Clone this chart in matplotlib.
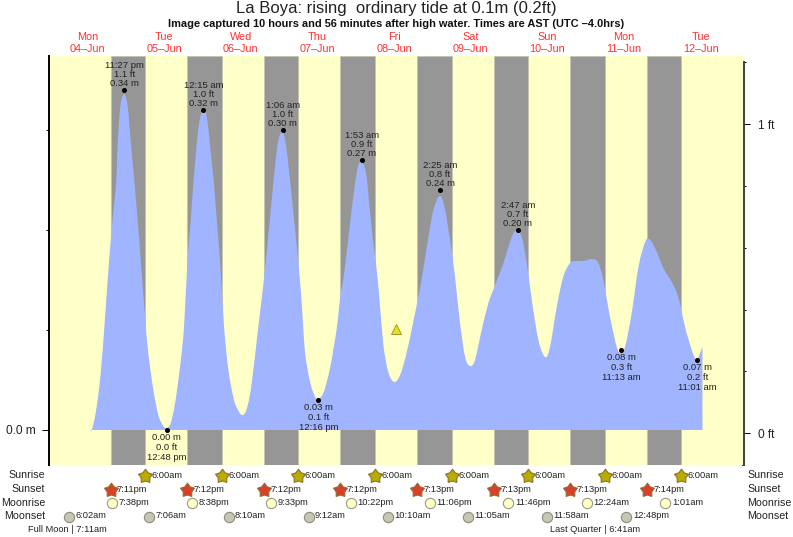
import matplotlib
matplotlib.use('Agg')
import matplotlib.pyplot as plt
from matplotlib.patches import PathPatch
from matplotlib.path import Path
from matplotlib.transforms import blended_transform_factory

plt.rcParams['font.family'] = ['Liberation Sans', 'DejaVu Sans']

# Tide curve, hours after midnight on 04-Jun and height in metres
tide_hours = [12.9, 13.3, 14.1, 15.15, 16.2, 17.25, 18, 18.7, 19.85, 20.9, 21.3, 21.65, 22.3, 23.4, 24.5, 25.2,
              25.8, 26.75, 27.8, 28.7, 30, 31, 32.6, 34.15, 35.7, 36.8, 38.05, 39.4, 40.95, 42.2, 43.25,
              44.1, 45.1, 45.95, 46.7, 47.45, 48.25, 49.1, 49.8, 50.55, 51.6, 52.65, 53.5, 54.75, 56.1, 57.85,
              59.3, 60.3, 61.5, 62.8, 64, 65, 66.55, 67.6, 69.15, 70.7,
              71.75, 73, 74.05, 75.4, 77, 78.25, 79.1, 80.1, 81.7, 83.25, 84.1, 85.85, 87.95, 90.05, 91.1, 92.5,
              94.2, 95.8, 96.8, 97.85, 99.2, 100.5, 101.5, 102.5, 103.4, 104.65, 106.2, 108, 109.9, 112,
              114, 115.1, 116.7, 118.75, 120.3, 122.2, 123.65, 125.55, 127.1, 128.65, 130.25, 131.8,
              133.35, 135.45, 137.55, 139.65, 142.25, 144.85, 146.45, 148, 149.55, 151.15, 153.2, 155.3, 156.85,
              158.95, 161, 163.15, 165.25, 167.3, 170.25, 172, 173.55, 175.65, 177.75, 179, 180.35, 182.45,
              184.55, 186.65, 187.9, 189.75, 192.35, 195, 197.05, 199.15, 201.25, 202.6, 203.35, 204.6]
tide_m = [-0.001, 0.0, 0.01, 0.03, 0.06, 0.103, 0.137, 0.168, 0.212, 0.245, 0.278, 0.30, 0.325, 0.336, 0.325, 0.30,
          0.278, 0.245, 0.205, 0.168, 0.113, 0.077, 0.04, 0.015, 0.004, 0.002, 0.007, 0.027, 0.063, 0.103, 0.168,
          0.202, 0.245, 0.278, 0.302, 0.315, 0.321, 0.317, 0.302, 0.278, 0.245, 0.202, 0.168, 0.103, 0.06, 0.03,
          0.019, 0.015, 0.018, 0.034, 0.062, 0.09, 0.132, 0.162, 0.213, 0.263,
          0.29, 0.298, 0.287, 0.25, 0.2, 0.16, 0.125, 0.078, 0.048, 0.033, 0.031, 0.037, 0.062, 0.102, 0.132, 0.16,
          0.207, 0.247, 0.265, 0.268, 0.257, 0.217, 0.187, 0.162, 0.132, 0.085, 0.058, 0.048, 0.055, 0.078,
          0.108, 0.125, 0.152, 0.193, 0.22, 0.234, 0.225, 0.19, 0.153, 0.107, 0.073, 0.064,
          0.07, 0.1, 0.127, 0.145, 0.167, 0.193, 0.2, 0.193, 0.167, 0.13, 0.09, 0.073, 0.083,
          0.123, 0.153, 0.167, 0.169, 0.169, 0.171, 0.167, 0.15, 0.113, 0.083, 0.077, 0.083, 0.117,
          0.163, 0.188, 0.191, 0.182, 0.162, 0.148, 0.133, 0.103, 0.08, 0.07, 0.073, 0.083]

day_names = ['Mon', 'Tue', 'Wed', 'Thu', 'Fri', 'Sat', 'Sun', 'Mon', 'Tue']
day_dates = ['04–Jun', '05–Jun', '06–Jun', '07–Jun', '08–Jun', '09–Jun', '10–Jun', '11–Jun', '12–Jun']

# Events: index of the day and clock time
sunrise_days = [1, 2, 3, 4, 5, 6, 7, 8]
sunrise_times = ['6:00am'] * 8
sunset_days = [0, 1, 2, 3, 4, 5, 6, 7]
sunset_times = ['7:11pm', '7:12pm', '7:12pm', '7:12pm', '7:13pm', '7:13pm', '7:13pm', '7:14pm']
moonrise_days = [0, 1, 2, 3, 4, 5, 7, 8]
moonrise_times = ['7:38pm', '8:38pm', '9:33pm', '10:22pm', '11:06pm', '11:46pm', '12:24am', '1:01am']
moonset_days = [0, 1, 2, 3, 4, 5, 6, 7]
moonset_times = ['6:02am', '7:06am', '8:10am', '9:12am', '10:10am', '11:05am', '11:58am', '12:48pm']

# High and low water
high_days = [0, 2, 3, 4, 5, 6]
high_times = ['11:27 pm', '12:15 am', '1:06 am', '1:53 am', '2:25 am', '2:47 am']
high_ft = ['1.1 ft', '1.0 ft', '1.0 ft', '0.9 ft', '0.8 ft', '0.7 ft']
high_m = [0.34, 0.32, 0.30, 0.27, 0.24, 0.20]
low_days = [1, 3, 7, 8]
low_times = ['12:48 pm', '12:16 pm', '11:13 am', '11:01 am']
low_ft = ['0.0 ft', '0.1 ft', '0.3 ft', '0.2 ft']
low_m = [0.00, 0.03, 0.08, 0.07]

now_hour = 108.6
now_m = 0.101

W, H = 793, 537
DAY_COL = '#ffffc8'
NIGHT_COL = '#969696'
TIDE_COL = '#a0b4ff'
TEXT_COL = '#222222'


def clock_hours(day, t):
    # '7:11pm' or '11:27 pm' to hours after midnight on 04-Jun
    t = t.replace(' ', '')
    hh, mm = t[:-2].split(':')
    hh = int(hh) % 12
    if t.endswith('pm'):
        hh += 12
    return day * 24 + hh + int(mm) / 60


def fy(py):
    return 1 - py / H


def tide_path(xs, ys):
    # closed outline down to zero, with rounded joins between the read points
    pts = list(zip(xs, ys))
    verts = [(xs[0], 0), pts[0]]
    codes = [Path.MOVETO, Path.LINETO]
    for i in range(len(pts) - 1):
        p0 = pts[max(i - 1, 0)]
        p1 = pts[i]
        p2 = pts[i + 1]
        p3 = pts[min(i + 2, len(pts) - 1)]
        verts.append((p1[0] + (p2[0] - p0[0]) / 6, p1[1] + (p2[1] - p0[1]) / 6))
        verts.append((p2[0] - (p3[0] - p1[0]) / 6, p2[1] - (p3[1] - p1[1]) / 6))
        verts.append(p2)
        codes += [Path.CURVE4] * 3
    verts += [(xs[-1], 0), (xs[0], 0)]
    codes += [Path.LINETO, Path.CLOSEPOLY]
    return Path(verts, codes)


sunrise_h = [clock_hours(d, t) for d, t in zip(sunrise_days, sunrise_times)]
sunset_h = [clock_hours(d, t) for d, t in zip(sunset_days, sunset_times)]
moonrise_h = [clock_hours(d, t) for d, t in zip(moonrise_days, moonrise_times)]
moonset_h = [clock_hours(d, t) for d, t in zip(moonset_days, moonset_times)]

fig = plt.figure(figsize=(W / 100, H / 100), dpi=100)
ax = fig.add_axes([49.3 / W, 1 - 464.5 / H, (743 - 49.3) / W, (464.5 - 56) / H])
ax.set_facecolor(DAY_COL)
ax.set_xlim(0, 217.3)
ax.set_ylim(-0.0345, 0.374)

# Night bars, then the tide over them
for start, end in zip(sunset_h, sunrise_h):
    ax.axvspan(start, end, color=NIGHT_COL, lw=0.6, ec='#c4c4b4', zorder=1)
ax.add_patch(PathPatch(tide_path(tide_hours, tide_m), fc=TIDE_COL, ec='none', lw=0, zorder=2))

ax.set_xticks([])
ax.spines['top'].set_visible(False)
ax.spines['bottom'].set_visible(False)
ax.spines['right'].set_visible(False)
ax.spines['left'].set_linewidth(1.4)
ax.spines['left'].set_color('black')
ax.set_yticks([0])
ax.set_yticklabels(['0.0 m'], fontsize=8.6, color=TEXT_COL)
ax.set_yticks([0.1, 0.2, 0.3], minor=True)
ax.tick_params(axis='y', which='major', length=5, width=0.7, pad=4.5)
ax.tick_params(axis='y', which='minor', length=2.4, width=0.7)

# Feet scale on the right, its zero sits a little lower than the metre one
ax2 = ax.twinx()
ax2.set_ylim((433.3 - 464.5) / 309, (433.3 - 56) / 309)
ax2.spines['top'].set_visible(False)
ax2.spines['bottom'].set_visible(False)
ax2.spines['left'].set_visible(False)
ax2.spines['right'].set_linewidth(2.2)
ax2.spines['right'].set_color('#444444')
ax2.spines['right'].set_bounds((433.3 - 464.5) / 309, 1.2)
ax2.set_yticks([0, 1])
ax2.set_yticklabels(['0 ft', '1 ft'], fontsize=8.6, color=TEXT_COL)
ax2.set_yticks([0.2, 0.4, 0.6, 0.8, 1.2], minor=True)
ax2.tick_params(axis='y', which='major', length=5, width=0.7, pad=5.5)
ax2.tick_params(axis='y', which='minor', length=2.4, width=0.7)
ax2.set_zorder(0)
ax.set_zorder(1)
ax.patch.set_zorder(0)

# High and low water dots with their three lines of text
for d, t, ft, m in zip(high_days, high_times, high_ft, high_m):
    h = clock_hours(d, t)
    ax.plot(h, m, 'o', color='black', ms=2.6, zorder=5, clip_on=False)
    for line, off in zip(('%.2f m' % m, ft, t), [6, 15.5, 25]):
        ax.annotate(line, (h, m), xytext=(0, off), textcoords='offset pixels', ha='center', va='center',
                    fontsize=6.8, color=TEXT_COL, zorder=6, annotation_clip=False)
for d, t, ft, m in zip(low_days, low_times, low_ft, low_m):
    h = clock_hours(d, t)
    ax.plot(h, m, 'o', color='black', ms=2.6, zorder=5, clip_on=False)
    for line, off in zip(('%.2f m' % m, ft, t), [-8, -18, -27]):
        ax.annotate(line, (h, m), xytext=(0, off), textcoords='offset pixels', ha='center', va='center',
                    fontsize=6.8, color=TEXT_COL, zorder=6, annotation_clip=False)

# Current state of the tide
ax.plot(now_hour, now_m, '^', ms=6.5, mfc='#e2e22a', mec='#a8982a', mew=0.7, zorder=5)

# Title block
fig.text(396.5 / W, fy(9), 'La Boya: rising  ordinary tide at 0.1m (0.2ft)', ha='center', va='center',
         fontsize=12, color=TEXT_COL)
fig.text(396.5 / W, fy(24), 'Image captured 10 hours and 56 minutes after high water. Times are AST (UTC –4.0hrs)',
         ha='center', va='center', fontsize=7.9, fontweight='bold', color='#111111')

trans = blended_transform_factory(ax.transData, fig.transFigure)
for i, (name, date) in enumerate(zip(day_names, day_dates)):
    ax.text(i * 24 + 12, fy(36.5), name, transform=trans, ha='center', va='center', fontsize=7.8,
            color='#ff3030', clip_on=False)
    ax.text(i * 24 + 12, fy(48.5), date, transform=trans, ha='center', va='center', fontsize=7.8,
            color='#ff3030', clip_on=False)

# Sun and moon rows below the plot
fat_star = Path.unit_regular_star(5, innerCircle=0.62)
rows = [
    ('Sunrise', 475, sunrise_h, sunrise_times, dict(marker=fat_star, ms=10.5, mfc='#b8ac00', mec='#8f6f2a')),
    ('Sunset', 489, sunset_h, sunset_times, dict(marker=fat_star, ms=10.5, mfc='#d8402c', mec='#8f6f2a')),
    ('Moonrise', 502.5, moonrise_h, moonrise_times, dict(marker='o', ms=7.4, mfc='#ffffc8', mec='#9a9a84')),
    ('Moonset', 516, moonset_h, moonset_times, dict(marker='o', ms=7.4, mfc='#c6c6b2', mec='#8c8c80')),
]
for name, py, hours, times, style in rows:
    fig.text(45 / W, fy(py), name, ha='right', va='center', fontsize=7.7, color=TEXT_COL)
    fig.text(747 / W, fy(py), name, ha='left', va='center', fontsize=7.7, color=TEXT_COL)
    for h, t in zip(hours, times):
        ax.plot([h], [fy(py + 0.5)], transform=trans, clip_on=False, mew=0.8, zorder=7, **style)
        ax.annotate(t, (h, fy(py)), xycoords=trans, xytext=(6.5, 0), textcoords='offset pixels', ha='left',
                    va='center', fontsize=6.7, color=TEXT_COL, annotation_clip=False)

fig.text(67 / W, fy(529), 'Full Moon | 7:11am', ha='center', va='center', fontsize=6.7, color=TEXT_COL)
fig.text(595.5 / W, fy(529), 'Last Quarter | 6:41am', ha='center', va='center', fontsize=6.7, color=TEXT_COL)

fig.savefig('out.png', dpi=100)
plt.close()
